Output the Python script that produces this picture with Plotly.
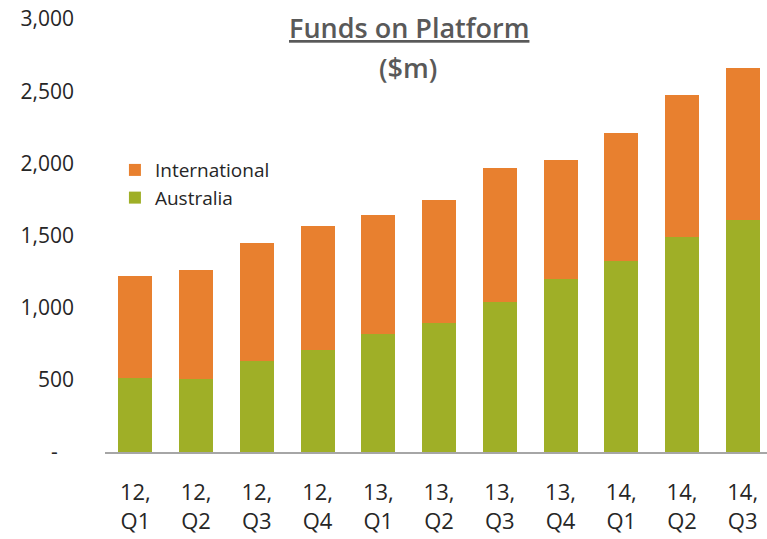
import plotly.graph_objects as go

categories = ["12,<br>Q1", "12,<br>Q2", "12,<br>Q3", "12,<br>Q4", "13,<br>Q1", "13,<br>Q2",
              "13,<br>Q3", "13,<br>Q4", "14,<br>Q1", "14,<br>Q2", "14,<br>Q3"]
australia = [513, 506, 628, 705, 820, 892, 1039, 1199, 1321, 1487, 1607]
international = [706, 755, 818, 859, 822, 852, 929, 822, 891, 984, 1053]

y_tickvals = [0, 500, 1000, 1500, 2000, 2500, 3000]
y_ticktext = ["-\u00a0\u00a0\u00a0", "500", "1,000", "1,500", "2,000", "2,500", "3,000"]

GREEN = "#9FAF27"
ORANGE = "#E8802F"
FONT = "Open Sans"

fig = go.Figure()
fig.add_trace(go.Bar(name="Australia", x=categories, y=australia,
                     marker=dict(color=GREEN, line=dict(width=0))))
fig.add_trace(go.Bar(name="International", x=categories, y=international,
                     marker=dict(color=ORANGE, line=dict(width=0))))

fig.update_layout(
    width=767, height=539,
    margin=dict(l=105, r=0, t=19, b=87),
    barmode="stack", bargap=0.44,
    paper_bgcolor="white", plot_bgcolor="white",
    font=dict(family=FONT, size=19, color="#262626"),
    showlegend=True,
    legend=dict(traceorder="reversed", x=0.015, y=0.695, xanchor="left", yanchor="top",
                font=dict(family=FONT, size=19, color="#262626"),
                bgcolor="rgba(0,0,0,0)", tracegroupgap=0, itemwidth=30),
    xaxis=dict(range=[-0.5, 10.4], showgrid=False, showline=True, linecolor="#A6A6A6",
               linewidth=2, ticks="", tickfont=dict(family=FONT, size=22, color="#262626"),
               ticklabelstandoff=20, automargin=False, fixedrange=True),
    yaxis=dict(range=[0, 3000], tickvals=y_tickvals, ticktext=y_ticktext, showgrid=False,
               showline=False, zeroline=False, ticks="", ticklabelstandoff=30,
               ticklabeloverflow="allow", automargin=False,
               tickfont=dict(family=FONT, size=21, color="#262626"), fixedrange=True),
    annotations=[
        dict(text="<u>Funds on Platform</u>", xref="paper", yref="paper",
             x=0.4587, y=0.9815, xanchor="center", yanchor="middle", showarrow=False,
             font=dict(family=FONT, size=27, weight=600, color="#595959")),
        dict(text="($m)", xref="paper", yref="paper",
             x=0.4572, y=0.889, xanchor="center", yanchor="middle", showarrow=False,
             font=dict(family=FONT, size=27, weight=600, color="#595959")),
    ],
)

fig.write_html("out.html",
               config={"displayModeBar": False},
               post_script="document.body.style.margin='0';document.body.style.overflow='hidden';")
